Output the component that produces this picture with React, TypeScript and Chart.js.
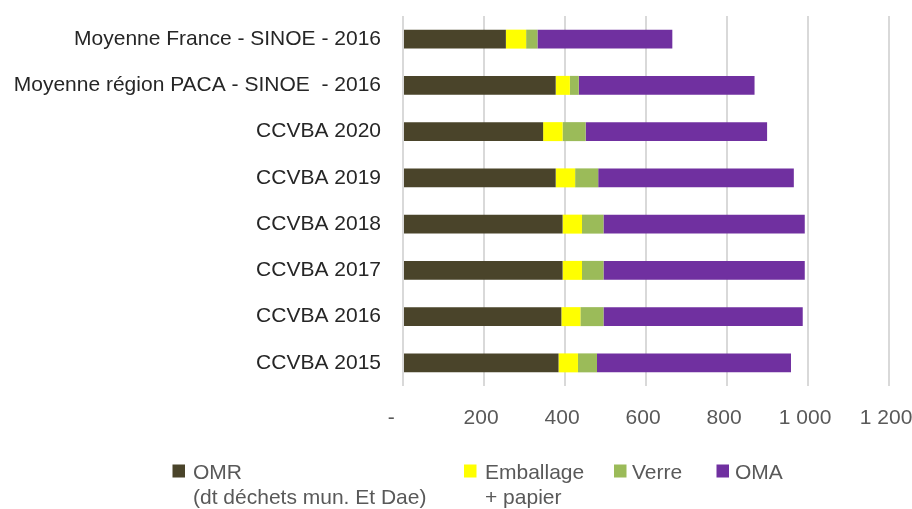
import React, { useEffect, useRef } from 'react';
import { Chart, registerables } from 'chart.js';

Chart.register(...registerables);

const categories = [
  'Moyenne France - SINOE - 2016',
  'Moyenne région PACA - SINOE  - 2016',
  'CCVBA 2020',
  'CCVBA 2019',
  'CCVBA 2018',
  'CCVBA 2017',
  'CCVBA 2016',
  'CCVBA 2015',
];
const omr = [254, 377, 346, 377, 394, 394, 391, 384];
const emballage = [50, 35, 48, 48, 48, 48, 47, 48];
const verre = [28, 22, 57, 57, 53, 53, 57, 47];
const oma = [333, 434, 448, 483, 497, 497, 492, 479];
const xTickValues = [0, 200, 400, 600, 800, 1000, 1200];

const seriesNames = ['OMR', 'Emballage', 'Verre', 'OMA'];
const legendLines = [
  ['OMR', '(dt déchets mun. Et Dae)'],
  ['Emballage', '+ papier'],
  ['Verre'],
  ['OMA'],
];
const seriesColors = ['#4A442A', '#FFFF00', '#9BBB59', '#7030A0'];

const FONT = '"Liberation Sans", Arial, sans-serif';

function formatTick(v: number): string {
  if (v === 0) return '-\u2007\u2007';
  return String(v).replace(/\B(?=(\d{3})+(?!\d))/g, ' ') + ' ';
}

const legendPlugin = {
  id: 'customLegend',
  afterDraw(chart: any) {
    const ctx = chart.ctx as CanvasRenderingContext2D;
    const squareX = [172.5, 464, 614, 716.5];
    const textX = [193, 485, 632, 735];
    ctx.save();
    ctx.font = `21px ${FONT}`;
    ctx.textBaseline = 'alphabetic';
    ctx.textAlign = 'left';
    legendLines.forEach((lines, i) => {
      ctx.fillStyle = seriesColors[i];
      ctx.fillRect(squareX[i], 464.5, 12.5, 13);
      ctx.fillStyle = '#595959';
      lines.forEach((line, j) => {
        ctx.fillText(line, textX[i], 478.5 + j * 25);
      });
    });
    ctx.restore();
  },
};

export default function App() {
  const canvasRef = useRef<HTMLCanvasElement | null>(null);

  useEffect(() => {
    document.body.style.margin = '0';
    const canvas = canvasRef.current;
    if (!canvas) return;
    const values = [omr, emballage, verre, oma];
    const chart = new Chart(canvas, {
      type: 'bar',
      data: {
        labels: categories,
        datasets: seriesNames.map((name, i) => ({
          label: name,
          data: values[i],
          backgroundColor: seriesColors[i],
          borderWidth: 0,
          barPercentage: 0.41,
          categoryPercentage: 1,
        })),
      },
      options: {
        indexAxis: 'y',
        responsive: false,
        animation: false,
        layout: { padding: { top: 16, right: 23, bottom: 0, left: 0 } },
        plugins: {
          legend: { display: false },
          tooltip: { enabled: false },
        },
        scales: {
          x: {
            stacked: true,
            min: 0,
            max: 1200,
            afterBuildTicks: (scale: any) => {
              scale.ticks = xTickValues.map((v) => ({ value: v }));
            },
            afterFit: (scale: any) => {
              scale.height = 123;
              scale.paddingLeft = 0;
              scale.paddingRight = 0;
              scale.paddingTop = 0;
              scale.paddingBottom = 0;
            },
            grid: {
              color: '#d9d9d9',
              lineWidth: 2,
              drawTicks: false,
            },
            border: { display: false },
            ticks: {
              padding: 20,
              color: '#595959',
              font: { family: FONT, size: 21 },
              maxRotation: 0,
              autoSkip: false,
              callback: (v: any) => formatTick(Number(v)),
            },
          },
          y: {
            stacked: true,
            afterFit: (scale: any) => {
              scale.width = 403;
              scale.paddingLeft = 0;
              scale.paddingRight = 0;
              scale.paddingTop = 0;
              scale.paddingBottom = 0;
            },
            grid: { display: false, drawTicks: false },
            border: { display: false },
            ticks: {
              padding: 22,
              color: '#262626',
              font: { family: FONT, size: 21 },
              autoSkip: false,
            },
          },
        },
      },
      plugins: [legendPlugin],
    });
    return () => chart.destroy();
  }, []);

  return (
    <div style={{ width: 912, height: 509, background: '#fff' }}>
      <canvas ref={canvasRef} width={912} height={509} style={{ display: 'block' }} />
    </div>
  );
}
